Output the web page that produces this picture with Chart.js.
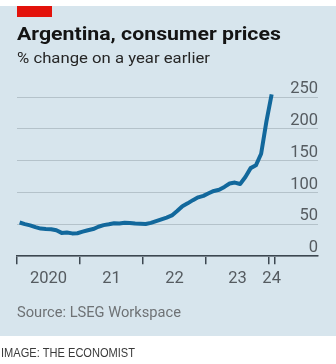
<!DOCTYPE html>
<html>
<head>
<meta charset="utf-8">
<script src="https://cdn.jsdelivr.net/npm/chart.js@4.4.1/dist/chart.umd.min.js"></script>
<style>
  html, body { margin: 0; padding: 0; background: #fff; }
  #wrap { position: relative; width: 336px; height: 364px; }
  canvas { display: block; }
</style>
</head>
<body>
<div id="wrap"><canvas id="chart" width="336" height="364"></canvas></div>
<script>
// Argentina consumer prices, % change on a year earlier, monthly Jan 2020 - Jan 2024
const months = [
  '2020-01','2020-02','2020-03','2020-04','2020-05','2020-06','2020-07','2020-08','2020-09','2020-10','2020-11','2020-12',
  '2021-01','2021-02','2021-03','2021-04','2021-05','2021-06','2021-07','2021-08','2021-09','2021-10','2021-11','2021-12',
  '2022-01','2022-02','2022-03','2022-04','2022-05','2022-06','2022-07','2022-08','2022-09','2022-10','2022-11','2022-12',
  '2023-01','2023-02','2023-03','2023-04','2023-05','2023-06','2023-07','2023-08','2023-09','2023-10','2023-11','2023-12',
  '2024-01'
];
const inflation = [
  52.9, 50.3, 48.4, 45.6, 43.4, 42.8, 42.4, 40.7, 36.6, 37.2, 35.8, 36.1,
  38.5, 40.7, 42.6, 46.3, 48.8, 50.2, 51.8, 51.4, 52.5, 52.1, 51.2, 50.9,
  50.7, 52.3, 55.1, 58.0, 60.7, 64.0, 71.0, 78.5, 83.0, 88.0, 92.4, 94.8,
  98.8, 102.5, 104.3, 108.8, 114.2, 115.6, 113.4, 124.4, 138.3, 142.7, 160.9, 211.4,
  254.2
];
const yearLabels = ['2020', '21', '22', '23', '24'];
const yTicks = [0, 50, 100, 150, 200, 250];

const titleText = 'Argentina, consumer prices';
const subtitleText = '% change on a year earlier';
const sourceText = 'Source: LSEG Workspace';
const creditText = 'IMAGE: THE ECONOMIST';

// x is measured in months from the start of 2020; each reading sits mid-month
const firstYear = 2020;
const monthIndex = m => (parseInt(m.slice(0, 4)) - firstYear) * 12 + parseInt(m.slice(5, 7)) - 1;
const points = months.map((m, i) => ({ x: monthIndex(m) + 0.5, y: inflation[i] }));
const lastMonth = monthIndex(months[months.length - 1]);

// year boundaries get a tick mark, year centres get the label
const yearStarts = yearLabels.map((_, i) => i * 12);
const labelPos = yearLabels.map((_, i) => Math.min(i * 12 + 6, lastMonth + 0.5));
const tickMarks = yearStarts.concat([lastMonth + 1]);

const BG = '#d7e5ed';
const INK = '#3c4750';

function fitText(ctx, text, x, y, font, color, width) {
  ctx.save();
  ctx.font = font;
  ctx.fillStyle = color;
  ctx.textBaseline = 'alphabetic';
  ctx.textAlign = 'left';
  const w = ctx.measureText(text).width;
  const s = width ? Math.max(0.85, Math.min(1.15, width / w)) : 1;
  ctx.translate(x, y);
  ctx.scale(s, 1);
  ctx.fillText(text, 0, 0);
  ctx.restore();
}

const framePlugin = {
  id: 'frame',
  beforeDraw(chart) {
    const ctx = chart.ctx;
    ctx.save();
    ctx.fillStyle = '#ffffff';
    ctx.fillRect(0, 0, chart.width, chart.height);
    ctx.fillStyle = BG;
    ctx.fillRect(0, 6, chart.width, 330);
    ctx.fillStyle = '#e3120b';
    ctx.fillRect(17, 6, 35, 11);
    ctx.restore();
  },
  afterDraw(chart) {
    const ctx = chart.ctx;
    fitText(ctx, titleText, 17, 40, 'bold 18.5px Roboto', '#141414', 270);
    fitText(ctx, subtitleText, 17, 63, '15.5px Roboto', '#262626', 193);
    fitText(ctx, sourceText, 17, 317, '15.5px Roboto', '#6e7275', 164);
    fitText(ctx, creditText, 1, 357, '12.5px "Liberation Sans"', '#3a3a3a', 134);
  }
};

const tickFont = { family: '"Liberation Sans Narrow", "Roboto", sans-serif', size: 16.5 };

new Chart(document.getElementById('chart'), {
  type: 'line',
  data: {
    datasets: [{
      data: points,
      borderColor: '#12689c',
      borderWidth: 4,
      pointRadius: 0,
      tension: 0,
      borderJoinStyle: 'round',
      clip: false
    }]
  },
  options: {
    responsive: false,
    animation: false,
    events: [],
    layout: { padding: { left: 17, right: 18, top: 97, bottom: 70 } },
    plugins: { legend: { display: false }, tooltip: { enabled: false } },
    scales: {
      x: {
        type: 'linear',
        min: 0,
        max: 57.33,
        afterBuildTicks(scale) {
          const vals = tickMarks.concat(labelPos).sort((a, b) => a - b);
          scale.ticks = vals.map(v => ({ value: v }));
        },
        ticks: {
          autoSkip: false,
          maxRotation: 0,
          minRotation: 0,
          padding: 5,
          color: '#555b60',
          font: tickFont,
          callback(value) {
            const i = labelPos.indexOf(value);
            return i >= 0 ? yearLabels[i] : '';
          }
        },
        grid: {
          drawOnChartArea: false,
          drawTicks: true,
          tickLength: 8,
          lineWidth: 1.5,
          color(ctx) {
            return ctx.tick && tickMarks.includes(ctx.tick.value) ? INK : 'rgba(0,0,0,0)';
          }
        },
        border: { display: true, color: INK, width: 1.5 }
      },
      y: {
        position: 'right',
        min: 0,
        max: 250,
        afterBuildTicks(scale) {
          scale.ticks = yTicks.map(v => ({ value: v }));
        },
        ticks: {
          mirror: true,
          padding: 0,
          labelOffset: -8,
          color: '#555b60',
          font: tickFont
        },
        grid: { color: '#b4c2ca', lineWidth: 1, drawTicks: false },
        border: { display: false }
      }
    }
  },
  plugins: [framePlugin]
});
</script>
</body>
</html>
